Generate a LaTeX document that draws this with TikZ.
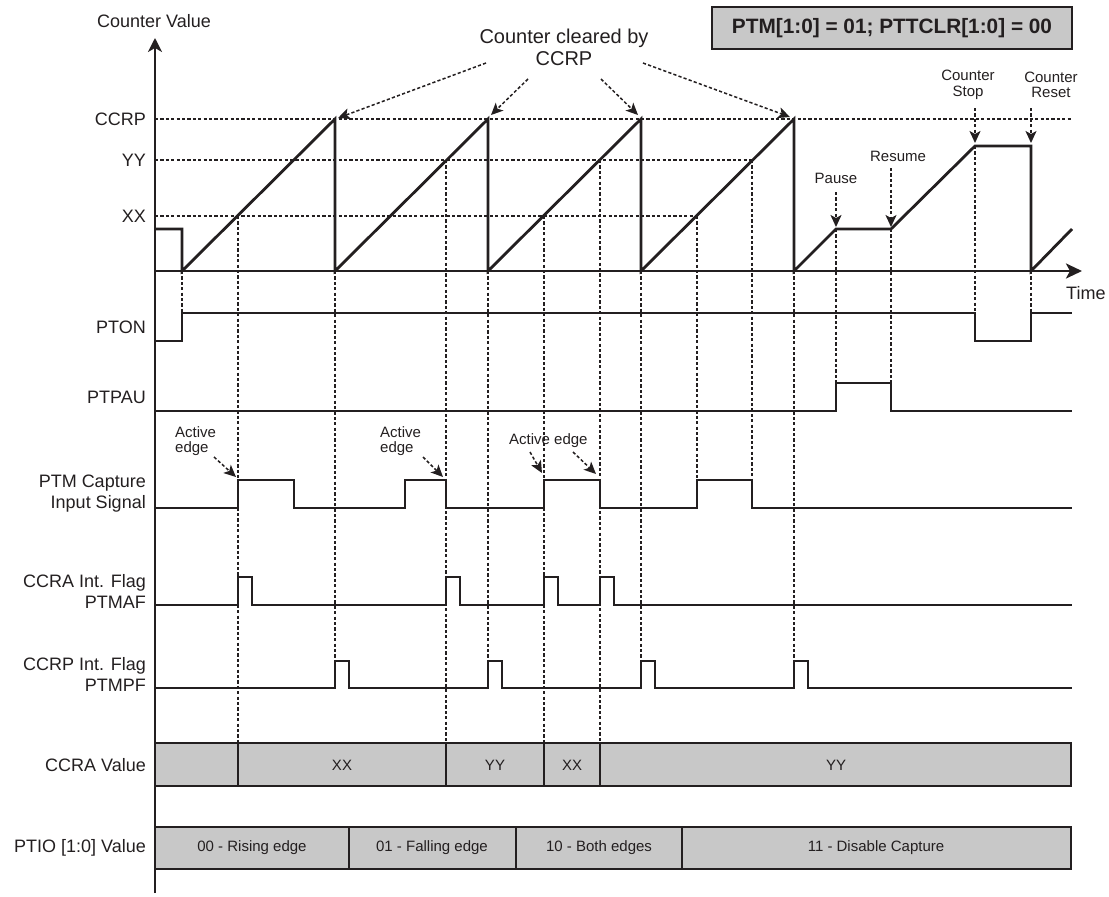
\documentclass[tikz,border=0pt]{standalone}
\usepackage{fontspec}
\setmainfont{Liberation Sans}
\usepackage{xcolor}
\usepackage{tikz}
\usetikzlibrary{arrows.meta,positioning,calc}
\definecolor{barfill}{HTML}{C8C8C8}
\definecolor{inkgrey}{HTML}{231F20}
\newcommand{\lblfont}{\fontsize{18}{21}\selectfont}
\newcommand{\notefont}{\fontsize{15}{15.5}\selectfont}

\begin{document}
\begin{tikzpicture}[x=1pt, y=-1pt, font=\lblfont, color=inkgrey,
  sig/.style={line width=1.9pt},
  cnt/.style={line width=2.8pt, line join=miter},
  guide/.style={line width=1.5pt, dash pattern=on 3.2pt off 2.2pt},
  note/.style={guide, -{Stealth[length=12pt,width=11pt,inset=3pt]}},
  lbl/.style={anchor=east, align=right, inner sep=0pt},
  tag/.style={font=\notefont, align=center, inner sep=1pt},
  bar/.style={draw, line width=1.8pt, fill=barfill},
  cell/.style={font=\notefont}]
\useasboundingbox (0,0) rectangle (1109,897);

% level guides
\draw[guide] (155,119) -- (1072,119);
\draw[guide] (155,160) -- (752,160);
\draw[guide] (155,216) -- (697,216);
\foreach \x/\ya/\yb in {182/271/313, 238/216/743, 335/271/661, 446/160/743,
  488/271/661, 544/216/743, 600/160/743, 641/271/661, 697/216/480,
  752/160/480, 794/271/661, 836/229/383, 891/229/383, 975/146/313, 1031/271/313}
  \draw[guide] (\x,\ya) -- (\x,\yb);

% axes
\draw[line width=1.9pt, -{Stealth[length=14pt,width=14pt,inset=4pt]}] (155,893) -- (155,38);
\draw[cnt, -{Stealth[length=16pt,width=15pt,inset=4pt]}] (155,271) -- (1082,271);
\node (cv) at (154,21) {Counter Value};
\node[anchor=west, inner sep=0pt] (time) at (1066,293) {Time};

% counter
\draw[cnt] (155,229) -- (182,229) -- (182,271) -- (335,119) -- (335,271)
  -- (488,119) -- (488,271) -- (641,119) -- (641,271) -- (794,119) -- (794,271)
  -- (836,229) -- (891,229) -- (975,146) -- (1031,146) -- (1031,271) -- (1072,229);

\node[lbl] (lccrp) at (146,119) {CCRP};
\node[lbl] (lyy) at (146,160) {YY};
\node[lbl] (lxx) at (146,216) {XX};

% mode box
\node[draw, line width=2pt, fill=barfill, minimum width=360pt, minimum height=42pt,
  font=\fontsize{20.8}{22}\selectfont\bfseries] (mode) at (892,28)
  {PTM[1:0] = 01; PTTCLR[1:0] = 00};

% cleared by CCRP
\node[font=\fontsize{20}{22}\selectfont, align=center, inner sep=0pt] (clr) at (564,47)
  {Counter cleared by\\CCRP};
\coordinate (c1) at (486,63);  \coordinate (p1) at (338,118);
\coordinate (c2) at (528,79);  \coordinate (p2) at (491,115);
\coordinate (c3) at (601,79);  \coordinate (p3) at (638,115);
\coordinate (c4) at (643,63);  \coordinate (p4) at (790,117);
\foreach \i in {1,...,4}
  \draw[note] (c\i) -- (p\i);

% pause / resume / stop / reset
\node[tag] (pause) at (836,178) {Pause};
\node[tag] (resume) at (898,156) {Resume};
\node[tag] (stop) at (968,85) {Counter\\Stop};
\node[tag] (reset) at (1051,85) {Counter\\Reset};
\coordinate (pz) at (836,227);
\coordinate (rs) at (891,227);
\coordinate (st) at (975,143);
\coordinate (rt) at (1031,143);
\draw[note] (836,192) -- (pz);
\draw[note] (891,168) -- (rs);
\draw[note] (975,108) -- (st);
\draw[note] (1031,108) -- (rt);

% signals
\node[lbl] (lpton) at (146,327) {PTON};
\draw[sig] (155,341) -- (182,341) -- (182,313) -- (975,313) -- (975,341)
  -- (1031,341) -- (1031,313) -- (1072,313);

\node[lbl] (lpau) at (146,397) {PTPAU};
\draw[sig] (155,411) -- (836,411) -- (836,383) -- (891,383) -- (891,411) -- (1072,411);

\node[lbl] (lcap) at (146,494) {PTM Capture\\Input Signal};
\draw[sig] (155,508) \foreach \a/\b in {238/294, 405/446, 544/600, 697/752}
  {-- (\a,508) -- (\a,480) -- (\b,480) -- (\b,508)} -- (1072,508);

\node[lbl] (lmaf) at (146,591) {CCRA Int. Flag\\PTMAF};
\draw[sig] (155,605) \foreach \t in {238,446,544,600}
  {-- (\t,605) -- (\t,577) -- ({\t+14},577) -- ({\t+14},605)} -- (1072,605);

\node[lbl] (lmpf) at (146,674) {CCRP Int. Flag\\PTMPF};
\draw[sig] (155,688) \foreach \t in {335,488,641,794}
  {-- (\t,688) -- (\t,661) -- ({\t+14},661) -- ({\t+14},688)} -- (1072,688);

% active edges
\node[tag, anchor=west, align=left] (ae1) at (174,441) {Active\\edge};
\node[tag, anchor=west, align=left] (ae2) at (379,441) {Active\\edge};
\node[tag, anchor=west] (ae3) at (508,441) {Active edge};
\coordinate (e1a) at (214,457); \coordinate (e1b) at (236,477);
\coordinate (e2a) at (423,457); \coordinate (e2b) at (443,477);
\coordinate (e3a) at (530,452); \coordinate (e3b) at (542,473);
\coordinate (e4a) at (573,452); \coordinate (e4b) at (596,474);
\foreach \i in {1,...,4}
  \draw[note] (e\i a) -- (e\i b);

% value bars
\node[lbl] (lccra) at (146,765) {CCRA Value};
\draw[bar] (155,743) rectangle (1071,786);
\foreach \x in {238,446,544,600}
  \draw[line width=1.8pt] (\x,743) -- (\x,786);
\node[cell] at (342,765) {XX};
\node[cell] at (495,765) {YY};
\node[cell] at (572,765) {XX};
\node[cell] at (836,765) {YY};

\node[lbl] (lptio) at (146,848) {PTIO [1:0] Value};
\draw[bar] (155,827) rectangle (1071,869);
\foreach \x in {349,516,682}
  \draw[line width=1.8pt] (\x,827) -- (\x,869);
\node[cell] at (252,848) {00 - Rising edge};
\node[cell] at (432,848) {01 - Falling edge};
\node[cell] at (599,848) {10 - Both edges};
\node[cell] at (876,848) {11 - Disable Capture};
\end{tikzpicture}
\end{document}
